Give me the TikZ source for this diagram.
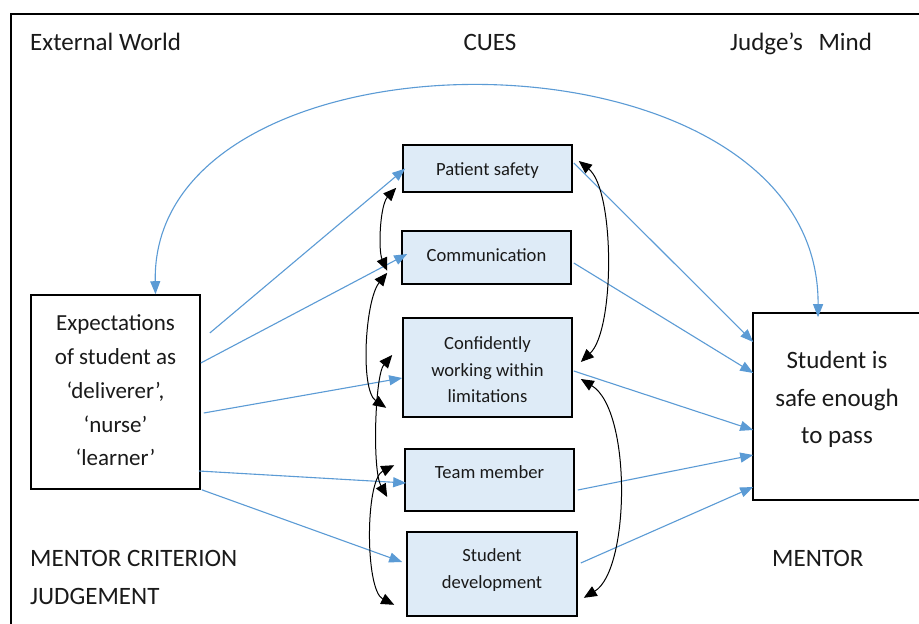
\documentclass[tikz,border=0pt]{standalone}
\usepackage{fontspec}
\setmainfont{Carlito}
\usetikzlibrary{arrows.meta}
\definecolor{lineblue}{HTML}{5B9BD5}
\definecolor{boxfill}{HTML}{DEEBF7}
\definecolor{inkc}{HTML}{1A1A1A}
% #1 = raise applied to a smashed tabular (centred on the math axis)
\newcommand{\mlines}[2]{\raisebox{#1}[0pt][0pt]{\begin{tabular}{@{}c@{}}#2\end{tabular}}}
\begin{document}
\begin{tikzpicture}[x=1pt,y=-1pt,
  cue/.style={draw=black, line width=1.6pt, fill=boxfill, inner sep=0pt, text=inkc,
    font=\fontsize{18.6}{26.5}\selectfont},
  bigbox/.style={draw=black, line width=1.6pt, fill=white, inner sep=0pt, text=inkc},
  lbl/.style={inner sep=0pt, text=inkc, font=\fontsize{25}{30}\selectfont},
  bluearrow/.style={draw=lineblue, line width=1.1pt, -{Triangle[length=13pt,width=10pt]}},
  blackarrow/.style={draw=black, line width=1pt,
    {Triangle[length=13pt,width=11pt]}-{Triangle[length=13pt,width=11pt]}},
]
\clip (0,0) rectangle (919,624);
\fill[white] (0,0) rectangle (919,624);
% frame
\draw[line width=1.6pt] (11,640) -- (11,14) -- (940,14);

% labels
\node[lbl, anchor=base west] (tw) at (30,50) {External World};
\node[lbl, anchor=base] (tc) at (490,50) {CUES};
\node[lbl, anchor=base west] (tj) at (730,50) {Judge’s\hspace{10pt} Mind};
\node[lbl, anchor=base west] (bm1) at (30,566) {MENTOR CRITERION};
\node[lbl, anchor=base west] (bm2) at (30,604) {JUDGEMENT};
\node[lbl, anchor=base west] (bm3) at (772,566) {MENTOR};

% boxes
\node[bigbox, minimum width=169pt, minimum height=194pt,
  font=\fontsize{23}{33.75}\selectfont] (exp) at (115.5,392)
  {\mlines{-5.75pt}{Expectations\\of student as\\‘deliverer’,\\‘nurse’\\‘learner’}};
\node[bigbox, minimum width=168pt, minimum height=187pt,
  font=\fontsize{25}{37.5}\selectfont] (stu) at (837,406.5)
  {\mlines{1.75pt}{Student is\\safe enough\\to pass}};

\node[cue, minimum width=169pt, minimum height=47pt] (ps) at (487.5,168.5)
  {\mlines{-5.65pt}{Patient safety}};
\node[cue, minimum width=169pt, minimum height=53pt] (com) at (486.5,257.5)
  {\mlines{-2.65pt}{Communication}};
\node[cue, minimum width=169pt, minimum height=99pt] (conf) at (487.5,367.5)
  {\mlines{-7.65pt}{Confidently\\working within\\limitations}};
\node[cue, minimum width=169pt, minimum height=62pt] (team) at (489.5,480)
  {\mlines{2.35pt}{Team member}};
\node[cue, minimum width=170pt, minimum height=84pt] (dev) at (492,574)
  {\mlines{-0.15pt}{Student\\development}};

% big arc
\draw[draw=lineblue, line width=1.1pt,
  {Triangle[length=13pt,width=10pt]}-{Triangle[length=13pt,width=10pt]}]
  ([xshift=40pt]exp.north) .. controls (150,15) and (820,15) .. ([xshift=-19pt,yshift=-5pt]stu.north);

% blue arrows left
\draw[bluearrow] ([xshift=9pt,yshift=59pt]exp.east) -- ([xshift=3pt]ps.west);
\draw[bluearrow] ([yshift=29pt]exp.east) -- ([xshift=6pt,yshift=3.5pt]com.west);
\draw[bluearrow] ([xshift=3pt,yshift=-21pt]exp.east) -- ([yshift=-10.5pt]conf.west);
\draw[bluearrow] ([xshift=-2pt,yshift=-79pt]exp.east) -- ([xshift=2pt,yshift=-3pt]team.west);
\draw[bluearrow] ([xshift=1pt]exp.south east) -- ([xshift=-4pt,yshift=12pt]dev.west);

% blue arrows right
\draw[bluearrow] ([xshift=1pt,yshift=5.5pt]ps.east) -- ([xshift=1pt,yshift=64.5pt]stu.west);
\draw[bluearrow] ([xshift=2pt,yshift=-5.5pt]com.east) -- ([xshift=1pt,yshift=33.5pt]stu.west);
\draw[bluearrow] ([xshift=1pt,yshift=-3.5pt]conf.east) -- ([xshift=1pt,yshift=-23.5pt]stu.west);
\draw[bluearrow] ([xshift=3pt,yshift=-10pt]team.east) -- ([xshift=1pt,yshift=-48.5pt]stu.west);
\draw[bluearrow] ([xshift=3pt,yshift=11pt]dev.east) -- ([xshift=1pt,yshift=-80.5pt]stu.west);

% black double arrows left
\draw[blackarrow] ([xshift=-6pt,yshift=5pt]ps.south west)
  .. controls (380,205) and (378,250) .. ([xshift=-14pt,yshift=14pt]com.south west);
\draw[blackarrow] ([xshift=-14pt,yshift=12pt]com.south west)
  .. controls (365,300) and (360,390) .. ([xshift=-16pt,yshift=10pt]conf.south west);
\draw[blackarrow] ([xshift=-10pt,yshift=12.5pt]conf.west)
  .. controls (375,375) and (372,470) .. ([xshift=-17pt,yshift=-17pt]team.west);
\draw[blackarrow] ([xshift=-10pt,yshift=-17pt]team.north west)
  .. controls (365,480) and (365,590) .. ([xshift=-12pt,yshift=12pt]dev.south west);

% black double arrows right
\draw[blackarrow] ([xshift=6pt,yshift=7.5pt]ps.east)
  .. controls (615,190) and (615,330) .. ([xshift=8pt,yshift=5.5pt]conf.east);
\draw[blackarrow] ([xshift=8pt,yshift=-11.5pt]conf.east)
  .. controls (632,410) and (630,570) .. ([xshift=6pt,yshift=19pt]dev.south east);
\end{tikzpicture}
\end{document}
